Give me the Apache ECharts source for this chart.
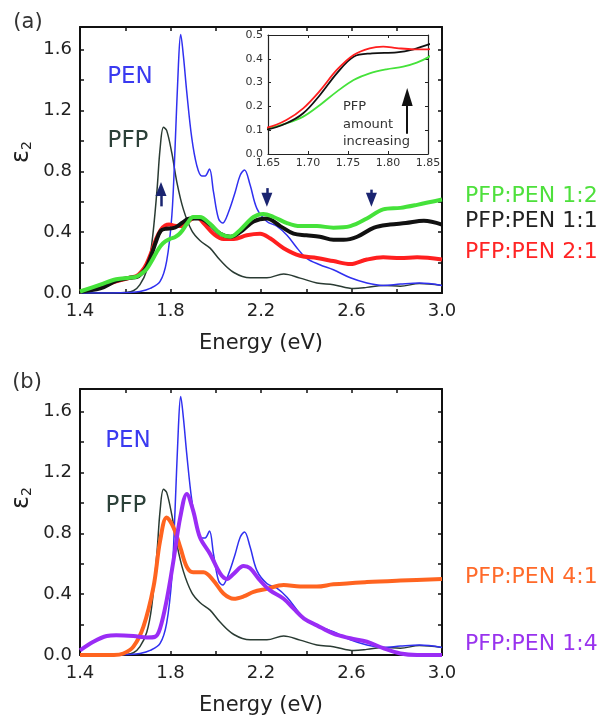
<!DOCTYPE html>
<html><head><meta charset="utf-8">
<script src="https://cdn.jsdelivr.net/npm/echarts@6/dist/echarts.min.js"></script>
<style>html,body{margin:0;padding:0;background:#fff}#c{width:603px;height:722px}</style>
</head><body><div id="c"></div>
<script>
// ---------------- DATA ----------------
const penE = [1.40,1.55,1.62,1.665,1.71,1.754,1.783,1.806,1.82,1.835,1.845,1.857,1.872,1.894,1.916,1.938,1.953,1.972,1.99,2.012,2.03,2.057,2.086,2.108,2.127,2.152,2.182,2.226,2.27,2.315,2.36,2.40,2.46,2.52,2.595,2.668,2.74,2.816,2.90,3.00];
const penV = [0,0,0.003,0.01,0.03,0.076,0.21,0.51,0.95,1.50,1.70,1.56,1.32,1.02,0.84,0.77,0.77,0.815,0.665,0.49,0.46,0.535,0.665,0.775,0.81,0.71,0.555,0.47,0.44,0.38,0.295,0.23,0.186,0.153,0.10,0.066,0.05,0.059,0.066,0.05];

const pfpE = [1.40,1.55,1.60,1.636,1.665,1.695,1.717,1.74,1.754,1.769,1.783,1.806,1.828,1.857,1.894,1.93,1.975,2.02,2.08,2.152,2.226,2.30,2.373,2.447,2.52,2.61,2.668,2.74,2.816,2.90,3.00];
const pfpV = [0,0,0.003,0.015,0.055,0.15,0.32,0.67,0.95,1.09,1.07,0.92,0.73,0.55,0.41,0.345,0.295,0.215,0.135,0.10,0.10,0.125,0.098,0.066,0.055,0.03,0.037,0.05,0.045,0.062,0.05];

const mix11E = [1.40,1.49,1.56,1.62,1.65,1.673,1.694,1.715,1.736,1.757,1.78,1.811,1.832,1.85,1.887,1.93,1.975,2.02,2.065,2.108,2.167,2.226,2.285,2.344,2.40,2.46,2.52,2.565,2.625,2.70,2.77,2.84,2.92,3.00];
const mix11V = [0.01,0.03,0.08,0.10,0.104,0.129,0.171,0.248,0.339,0.409,0.423,0.427,0.44,0.46,0.49,0.49,0.45,0.39,0.37,0.40,0.47,0.49,0.44,0.39,0.38,0.37,0.35,0.35,0.37,0.43,0.45,0.46,0.475,0.45];

const mix21E = [1.40,1.49,1.56,1.62,1.65,1.673,1.694,1.715,1.736,1.757,1.777,1.794,1.811,1.832,1.85,1.887,1.916,1.946,1.99,2.034,2.08,2.137,2.196,2.24,2.30,2.373,2.447,2.52,2.595,2.668,2.74,2.816,2.89,3.00];
const mix21V = [0.01,0.04,0.076,0.10,0.112,0.143,0.192,0.266,0.353,0.416,0.444,0.451,0.445,0.44,0.44,0.48,0.50,0.46,0.39,0.355,0.355,0.38,0.39,0.36,0.295,0.245,0.23,0.21,0.19,0.22,0.235,0.23,0.235,0.22];

const mix12E = [1.40,1.49,1.56,1.62,1.65,1.673,1.694,1.715,1.736,1.757,1.777,1.798,1.819,1.836,1.85,1.875,1.90,1.93,1.975,2.02,2.065,2.108,2.167,2.21,2.256,2.315,2.373,2.447,2.52,2.595,2.668,2.74,2.816,2.89,3.00];
const mix12V = [0.01,0.055,0.09,0.10,0.108,0.129,0.157,0.206,0.262,0.311,0.339,0.356,0.367,0.384,0.406,0.46,0.50,0.50,0.455,0.39,0.37,0.415,0.50,0.52,0.50,0.46,0.44,0.44,0.43,0.44,0.49,0.55,0.56,0.58,0.615];

const mix41E = [1.40,1.55,1.592,1.636,1.68,1.725,1.754,1.783,1.813,1.843,1.872,1.90,1.946,1.99,2.034,2.08,2.123,2.167,2.226,2.30,2.373,2.447,2.52,2.668,2.816,3.00];
const mix41V = [0,0,0.01,0.055,0.185,0.45,0.75,0.905,0.84,0.71,0.58,0.545,0.545,0.49,0.405,0.37,0.385,0.415,0.435,0.46,0.45,0.45,0.465,0.48,0.49,0.50];

const mix14E = [1.40,1.459,1.518,1.56,1.636,1.695,1.732,1.754,1.783,1.813,1.843,1.872,1.90,1.93,1.975,2.02,2.05,2.08,2.123,2.152,2.196,2.24,2.30,2.344,2.39,2.447,2.52,2.595,2.668,2.74,2.816,2.89,3.00];
const mix14V = [0.03,0.087,0.125,0.13,0.125,0.115,0.12,0.175,0.36,0.62,0.905,1.06,0.95,0.775,0.665,0.535,0.50,0.535,0.585,0.57,0.49,0.425,0.37,0.305,0.24,0.195,0.14,0.11,0.087,0.045,0.01,0,0];

// arrows: [energy, startValue, endValue]
const navyArrows = [[1.758,0.57,0.685],[2.226,0.69,0.613],[2.688,0.68,0.613]];
const insetArrow = [[1.824,0.085,0.24]];

// axis ranges / tick labels
const mainXRange = [1.4, 3.0], mainYRange = [0, 1.75];
const mainXLabelStep = 0.4, mainYLabelStep = 0.4;
const insetXRange = [1.65, 1.85], insetYRange = [0, 0.5];
const legendA = ['PFP:PEN 1:2','PFP:PEN 1:1','PFP:PEN 2:1'];
const legendB = ['PFP:PEN 4:1','PFP:PEN 1:4'];

// ---------------- STYLE ----------------
const FONT = 'DejaVu Sans';
const C = {pen:'#3030f0', pfp:'#2a3b33', m12:'#45e23a', m11:'#111111', m21:'#ff1f1f', m41:'#ff6420', m14:'#9a2cf5', navy:'#1a2470'};
const zip = (E,V) => E.map((e,i)=>[e,V[i]]);
const isStep = (v, base, step) => { const k=(v-base)/step; return Math.abs(k-Math.round(k))<1e-6; };

function mainX(grid, pos, labels, name){
  return {type:'value', gridIndex:grid, position:pos, min:mainXRange[0], max:mainXRange[1], interval:0.2,
    axisLine:{show:true,onZero:false,lineStyle:{color:'#111',width:2}},
    axisTick:{show:true,inside:true,length:4,lineStyle:{color:'#111',width:1.5}},
    axisLabel:{show:labels,margin:9,fontFamily:FONT,fontSize:18,color:'#222',
      formatter:v=>isStep(v,mainXRange[0],mainXLabelStep)?v.toFixed(1):''},
    splitLine:{show:false},
    name:name||'', nameLocation:'middle', nameGap:40,
    nameTextStyle:{fontFamily:FONT,fontSize:21,color:'#222'}};
}
function mainY(grid, pos, labels){
  return {type:'value', gridIndex:grid, position:pos, min:mainYRange[0], max:mainYRange[1], interval:0.2,
    axisLine:{show:true,onZero:false,lineStyle:{color:'#111',width:2}},
    axisTick:{show:true,inside:true,length:4,lineStyle:{color:'#111',width:1.5}},
    axisLabel:{show:labels,margin:8,fontFamily:FONT,fontSize:18,color:'#222',
      formatter:v=>(v<=1.6001 && isStep(v,0,mainYLabelStep))?v.toFixed(1):''},
    splitLine:{show:false}};
}
function insetX(pos, labels){
  return {type:'value', gridIndex:2, position:pos, min:insetXRange[0], max:insetXRange[1], interval:0.05, z:6,
    axisLine:{show:true,onZero:false,lineStyle:{color:'#222',width:1.2}},
    axisTick:{show:true,inside:true,length:3,lineStyle:{color:'#222'}},
    axisLabel:{show:labels,margin:4,fontFamily:FONT,fontSize:11,color:'#333',formatter:v=>v.toFixed(2)},
    splitLine:{show:false}};
}
function insetY(pos, labels){
  return {type:'value', gridIndex:2, position:pos, min:insetYRange[0], max:insetYRange[1], interval:0.1, z:6,
    axisLine:{show:true,onZero:false,lineStyle:{color:'#222',width:1.2}},
    axisTick:{show:true,inside:true,length:3,lineStyle:{color:'#222'}},
    axisLabel:{show:labels,margin:5,fontFamily:FONT,fontSize:11,color:'#333',formatter:v=>v.toFixed(1)},
    splitLine:{show:false}};
}
function line(name, data, color, width, xi, yi, z){
  return {type:'line', name, data, xAxisIndex:xi, yAxisIndex:yi, smooth:0.35, showSymbol:false, symbol:'none',
    color, lineStyle:{color, width}, z:z||2, silent:true};
}
function arrowMark(list, color, head, width){
  return {silent:true, symbol:['none','triangle'], symbolSize:12, label:{show:false},
    itemStyle:{color}, lineStyle:{color, width, type:'solid'}, emphasis:{disabled:true},
    data:list.map(a=>[{coord:[a[0],a[1]]},{coord:[a[0],a[2]], symbolSize:head}])};
}
function txt(x,y,text,size,color,opt){
  return Object.assign({type:'text', x, y, z:20, style:Object.assign({text, fontFamily:FONT, fontSize:size, fill:color, align:'center', verticalAlign:'middle'}, (opt&&opt.style)||{})}, (opt&&opt.el)||{});
}
function eps(x,y){
  return {type:'text', x, y, rotation:Math.PI/2, z:20,
    style:{text:'{e|ε}{s|2}', align:'center', verticalAlign:'middle', fill:'#222',
      rich:{e:{fontFamily:FONT,fontSize:24,fill:'#222',verticalAlign:'bottom',lineHeight:26},
            s:{fontFamily:FONT,fontSize:14,fill:'#222',verticalAlign:'bottom',lineHeight:20}}}};
}

const s0 = line('PFP a', zip(pfpE,pfpV), C.pfp, 1.5, 0, 0, 2);
s0.markLine = arrowMark(navyArrows, C.navy, [11,14], 2.5);
const sInsetBlack = line('1:1 inset', zip(mix11E,mix11V), C.m11, 1.8, 4, 4, 7);
sInsetBlack.markLine = arrowMark(insetArrow, '#111', [11,18], 2);
sInsetBlack.markLine.z = 8;

const option = {
  animation:false,
  backgroundColor:'#fff',
  grid:[
    {left:80, top:27, width:362, height:266},
    {left:80, top:389, width:362, height:266},
    {left:268, top:35, width:160, height:119, show:true, backgroundColor:'#fff', borderWidth:0, z:5}
  ],
  xAxis:[mainX(0,'bottom',true,'Energy (eV)'), mainX(0,'top',false), mainX(1,'bottom',true,'Energy (eV)'), mainX(1,'top',false), insetX('bottom',true), insetX('top',false)],
  yAxis:[mainY(0,'left',true), mainY(0,'right',false), mainY(1,'left',true), mainY(1,'right',false), insetY('left',true), insetY('right',false)],
  series:[
    s0,
    line('PEN a', zip(penE,penV), C.pen, 1.5, 0, 0, 2),
    line('PFP:PEN 2:1', zip(mix21E,mix21V), C.m21, 4, 0, 0, 3),
    line('PFP:PEN 1:1', zip(mix11E,mix11V), C.m11, 4, 0, 0, 3),
    line('PFP:PEN 1:2', zip(mix12E,mix12V), C.m12, 4, 0, 0, 3),
    line('1:2 inset', zip(mix12E,mix12V), C.m12, 1.8, 4, 4, 7),
    sInsetBlack,
    line('2:1 inset', zip(mix21E,mix21V), C.m21, 1.8, 4, 4, 7),
    line('PFP b', zip(pfpE,pfpV), C.pfp, 1.5, 2, 2, 2),
    line('PEN b', zip(penE,penV), C.pen, 1.5, 2, 2, 2),
    line('PFP:PEN 4:1', zip(mix41E,mix41V), C.m41, 4, 2, 2, 3),
    line('PFP:PEN 1:4', zip(mix14E,mix14V), C.m14, 4, 2, 2, 3)
  ],
  graphic:[
    txt(28,23,'(a)',21,'#333'),
    txt(27,383,'(b)',21,'#333'),
    eps(21,152), eps(21,498),
    txt(130,77,'PEN',23,'#3a3af0'),
    txt(128,141,'PFP',23,'#2b4038'),
    txt(128,441,'PEN',23,'#3a3af0'),
    txt(126,506,'PFP',23,'#2b4038'),
    txt(465,196,legendA[0],22,'#4ee03c',{style:{align:'left'}}),
    txt(465,221,legendA[1],22,'#222',{style:{align:'left'}}),
    txt(465,252,legendA[2],22,'#ff2525',{style:{align:'left'}}),
    txt(465,577,legendB[0],22,'#ff6a2a',{style:{align:'left'}}),
    txt(465,644,legendB[1],22,'#9933ee',{style:{align:'left'}}),
    txt(343,107,'PFP',13,'#333',{style:{align:'left'}}),
    txt(343,125,'amount',13,'#333',{style:{align:'left'}}),
    txt(343,142,'increasing',13,'#333',{style:{align:'left'}})
  ]
};
const chart = echarts.init(document.getElementById('c'), null, {renderer:'canvas'});
chart.setOption(option);
</script>
</body></html>
